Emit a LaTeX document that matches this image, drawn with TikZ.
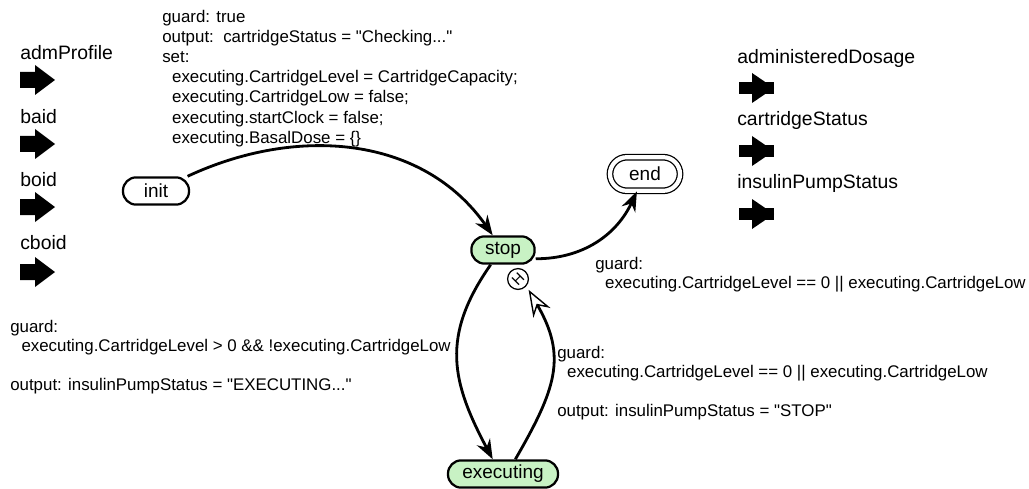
\documentclass[tikz,border=0pt]{standalone}
\usepackage{fontspec}
\setmainfont{Liberation Sans}[Ligatures=TeXOff]
\usepackage{graphicx}
\usetikzlibrary{arrows.meta}

\definecolor{stategreen}{RGB}{200,242,196}

\begin{document}
\begin{tikzpicture}[x=0.025cm, y=0.025cm,
    state/.style={draw, line width=1.6pt, rounded corners=0.33cm,
      minimum height=0.68cm, font=\fontsize{13.5}{16}\selectfont},
    active/.style={state, fill=stategreen},
    trans/.style={line width=2pt, -{Stealth[length=14pt,width=10.5pt]}},
    guardtext/.style={anchor=north west, inner sep=0pt, align=left,
      font=\fontsize{12}{13.8}\selectfont},
    portlabel/.style={anchor=west, inner sep=0pt,
      font=\fontsize{13.8}{16}\selectfont}]
  \useasboundingbox (0,0) rectangle (1029,488);

  \node[portlabel] (admprofile) at (20,435) {admProfile};
  \fill (20,400) -- ++(15,0) -- ++(0,-7) -- ++(20,15) -- ++(-20,15) -- ++(0,-7) -- ++(-15,0) -- cycle;
  \node[portlabel] (baid) at (20,371) {baid};
  \fill (20,336) -- ++(15,0) -- ++(0,-7) -- ++(20,15) -- ++(-20,15) -- ++(0,-7) -- ++(-15,0) -- cycle;
  \node[portlabel] (boid) at (20,308) {boid};
  \fill (20,273) -- ++(15,0) -- ++(0,-7) -- ++(20,15) -- ++(-20,15) -- ++(0,-7) -- ++(-15,0) -- cycle;
  \node[portlabel] (cboid) at (20,245) {cboid};
  \fill (20,208) -- ++(15,0) -- ++(0,-7) -- ++(20,15) -- ++(-20,15) -- ++(0,-7) -- ++(-15,0) -- cycle;

  \node[portlabel] (dosage) at (737,430) {administeredDosage};
  \fill (739,394) rectangle (774,406);
  \fill (752,385) -- (774,400) -- (752,415) -- cycle;
  \node[portlabel] (cartstatus) at (737,368) {cartridgeStatus};
  \fill (739,331) rectangle (774,343);
  \fill (752,322) -- (774,337) -- (752,352) -- cycle;
  \node[portlabel] (pumpstatus) at (737,305) {insulinPumpStatus};
  \fill (739,268) rectangle (774,280);
  \fill (752,259) -- (774,274) -- (752,289) -- cycle;

  \node[state, minimum width=1.65cm] (init) at (156,297) {init};
  \node[active, minimum width=1.58cm] (stop) at (503,238) {stop};
  \node[active, minimum width=2.75cm] (executing) at (503,14) {executing};
  \node[state, double, double distance=3pt, line width=0.9pt, minimum width=1.75cm,
    minimum height=0.84cm, rounded corners=0.42cm] (end) at (645,314) {end};
  \node[draw, circle, fill=white, line width=0.9pt, inner sep=0pt, minimum size=0.48cm,
    font=\fontsize{10.5}{10.5}\selectfont] (hist) at (518,209) {\rotatebox{45}{H}};

  \draw[trans] (init.25) to[out=25, in=125] (stop.125);
  \draw[trans] (stop.-15) to[out=0, in=-115] (end.-115);
  \draw[trans] (stop.-130) to[out=-125, in=118, looseness=1.15] (executing.125);
  \draw[line width=2pt, shorten >=3pt, -{Stealth[open, length=19pt, width=14pt, fill=white, line width=1pt]}]
    (executing.50) to[out=60, in=-60, looseness=1.2] (hist.-40);

  \node[guardtext, font=\fontsize{12}{14.3}\selectfont] (initguard) at (162,478)
    {guard: true\\
     output:\ \ cartridgeStatus = "Checking..."\\
     set:\\
     \hspace*{7pt}executing.CartridgeLevel = CartridgeCapacity;\\
     \hspace*{7pt}executing.CartridgeLow = false;\\
     \hspace*{7pt}executing.startClock = false;\\
     \hspace*{7pt}executing.BasalDose = \{\}};
  \node[guardtext] (endguard) at (595,231)
    {guard:\\
     \hspace*{7pt}executing.CartridgeLevel == 0 || executing.CartridgeLow};
  \node[guardtext] (runguard) at (10,168)
    {guard:\\
     \hspace*{8pt}executing.CartridgeLevel > 0 \&\& !executing.CartridgeLow\\[13.8pt]
     output: insulinPumpStatus = "EXECUTING..."};
  \node[guardtext] (stopguard) at (557,142)
    {guard:\\
     \hspace*{7pt}executing.CartridgeLevel == 0 || executing.CartridgeLow\\[13.8pt]
     output: insulinPumpStatus = "STOP"};
\end{tikzpicture}
\end{document}
